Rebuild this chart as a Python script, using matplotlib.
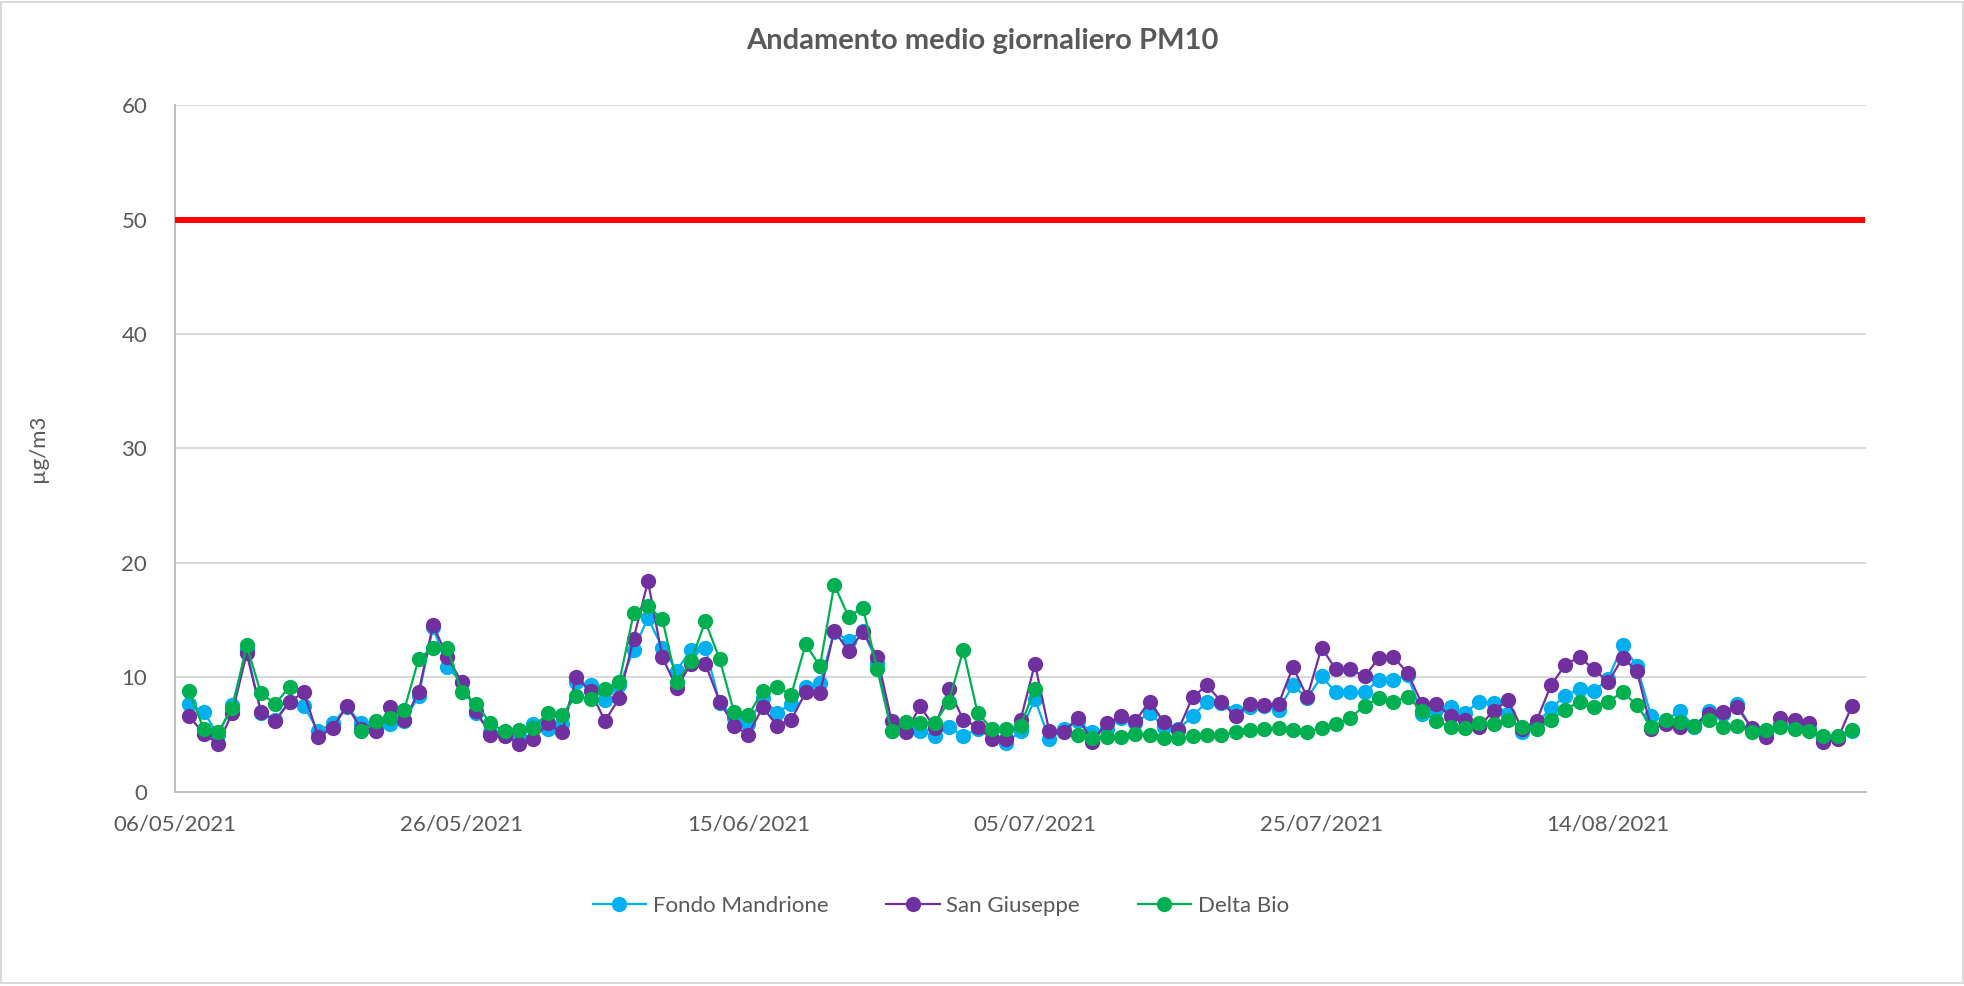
import numpy as np
import pandas as pd
import matplotlib
matplotlib.use("Agg")
import matplotlib.pyplot as plt
import matplotlib.dates as mdates
from matplotlib.patches import Rectangle

nan = np.nan

# Daily mean PM10 (µg/m3), one value per day starting 07/05/2021
start_date = "2021-05-07"
axis_start = "2021-05-06"
axis_end = "2021-09-01"

fondo_mandrione = [
    7.7, 7.0, 5.0, 7.6, 12.4, 6.9, 6.3, 7.9, 7.5, 5.3,
    6.0, 7.4, 6.0, 5.5, 5.9, 6.2, 8.4, 14.4, 10.9, 9.6,
    6.9, 5.2, 5.2, 4.9, 5.9, 5.5, 5.9, 9.6, 9.3, 8.0,
    9.3, 12.4, 15.2, 12.6, 10.6, 12.4, 12.6, 7.8, 6.5, 5.9,
    8.2, 6.9, 7.7, 9.2, 9.5, 14.0, 13.2, 14.1, 11.3, 5.3,
    5.9, 5.3, 4.9, 5.7, 4.9, 5.5, 5.4, 4.3, 5.3, 8.1,
    4.6, 5.5, 6.2, 5.2, 5.5, 6.5, 6.0, 6.9, 5.7, 5.5,
    6.6, 7.9, 7.8, 7.1, 7.4, 7.5, 7.2, 9.3, 8.2, 10.1,
    8.7, 8.7, 8.7, 9.8, 9.8, 10.2, 6.8, 7.2, 7.4, 6.9,
    7.9, 7.8, 6.8, 5.2, 6.0, 7.3, 8.4, 9.0, 8.8, 9.9,
    12.8, 11.0, 6.6, 6.2, 7.1, 5.7, 7.1, 6.8, 7.7, 5.5,
    5.2, 5.9, 5.7, 5.5, 4.7, 4.7, 5.3,
]

san_giuseppe = [
    6.6, 5.1, 4.2, 6.9, 12.1, 7.0, 6.2, 7.9, 8.7, 4.8,
    5.6, 7.5, 5.5, 5.3, 7.4, 6.3, 8.7, 14.6, 11.8, 9.6,
    7.1, 5.0, 4.9, 4.2, 4.6, 6.0, 5.2, 10.0, 8.8, 6.2,
    8.2, 13.4, 18.4, 11.8, 9.1, 11.2, 11.2, 7.9, 5.8, 5.0,
    7.4, 5.8, 6.3, 8.7, 8.6, 14.1, 12.3, 14.0, 11.8, 6.2,
    5.2, 7.5, 5.6, 9.0, 6.3, 5.7, 4.6, 4.6, 6.3, 11.2,
    5.3, 5.2, 6.5, 4.4, 6.0, 6.6, 6.2, 7.9, 6.1, 5.4,
    8.3, 9.3, 7.9, 6.6, 7.7, 7.6, 7.7, 10.9, 8.3, 12.6,
    10.7, 10.7, 10.1, 11.7, 11.8, 10.4, 7.7, 7.7, 6.6, 6.3,
    5.7, 7.1, 8.0, 5.5, 6.2, 9.3, 11.1, 11.8, 10.7, 9.6,
    11.7, 10.6, 5.5, 5.9, 5.7, 5.8, 6.8, 7.0, 7.4, 5.6,
    4.8, 6.5, 6.3, 6.0, 4.4, 4.6, 7.5,
]

delta_bio = [
    8.8, 5.5, 5.2, 7.3, 12.8, 8.6, 7.7, 9.2, nan, nan,
    nan, nan, 5.3, 6.2, 6.5, 7.2, 11.6, 12.6, 12.6, 8.7,
    7.7, 6.0, 5.3, 5.4, 5.6, 6.9, 6.7, 8.4, 8.1, 9.0,
    9.6, 15.6, 16.2, 15.1, 9.6, 11.4, 14.9, 11.6, 7.0, 6.7,
    8.8, 9.2, 8.5, 12.9, 11.0, 18.1, 15.3, 16.1, 10.7, 5.3,
    6.1, 6.0, 6.0, 7.9, 12.4, 6.9, 5.5, 5.5, 5.8, 9.0,
    nan, nan, 5.0, 4.7, 4.8, 4.8, 5.1, 5.0, 4.7, 4.7,
    4.9, 5.0, 5.0, 5.2, 5.4, 5.5, 5.6, 5.4, 5.2, 5.6,
    5.9, 6.5, 7.5, 8.2, 7.9, 8.3, 7.1, 6.2, 5.7, 5.6,
    6.0, 5.9, 6.3, 5.7, 5.5, 6.3, 7.2, 7.9, 7.4, 7.9,
    8.7, 7.6, 5.7, 6.3, 6.1, 5.8, 6.3, 5.7, 5.8, 5.2,
    5.4, 5.7, 5.5, 5.3, 4.9, 4.9, 5.4,
]

limit_value = 50

series_names = ["Fondo Mandrione", "San Giuseppe", "Delta Bio"]
series_colors = ["#00B0F0", "#7030A0", "#00B050"]

dates = pd.date_range(start_date, periods=len(fondo_mandrione), freq="D")
x_min = pd.Timestamp(axis_start)
x_max = pd.Timestamp(axis_end)

text_color = "#595959"
grid_color = "#D9D9D9"
font = ["Lato", "DejaVu Sans"]

plt.rcParams["font.family"] = font

fig = plt.figure(figsize=(19.64, 9.86), dpi=100)
ax = fig.add_axes([0.0891, 0.1968, 0.8611, 0.6967])

# Daily limit line
ax.plot([x_min, x_max - pd.Timedelta(hours=2)], [limit_value, limit_value],
        color="#FF0000", linewidth=4.3, solid_capstyle="butt", zorder=3)

for values, name, color in zip([fondo_mandrione, san_giuseppe, delta_bio],
                               series_names, series_colors):
    ax.plot(dates, values, color=color, linewidth=1.6, marker="o",
            markersize=11, markeredgewidth=0, label=name, zorder=4)

ax.set_xlim(x_min, x_max)
ax.set_ylim(0, 60)
ax.set_yticks(np.arange(0, 61, 10))
ax.set_xticks(pd.date_range(axis_start, axis_end, freq="20D"))
ax.xaxis.set_major_formatter(mdates.DateFormatter("%d/%m/%Y"))

ax.grid(axis="y", color=grid_color, linewidth=1.4, zorder=0)
ax.set_axisbelow(True)
for side in ["top", "right"]:
    ax.spines[side].set_visible(False)
for side in ["left", "bottom"]:
    ax.spines[side].set_color("#BFBFBF")
    ax.spines[side].set_linewidth(1.4)

ax.tick_params(axis="both", length=0, labelsize=16, colors=text_color)
ax.tick_params(axis="y", pad=20)
ax.tick_params(axis="x", pad=16)

ax.set_ylabel("µg/m3", fontsize=16, color=text_color)
ax.yaxis.set_label_coords(-0.075, 0.5)

fig.text(0.5, 0.958, "Andamento medio giornaliero PM10", ha="center",
         va="center", fontsize=21, fontweight="bold", color=text_color)

leg = fig.legend(loc="center", bbox_to_anchor=(0.479, 0.081), ncol=3,
                 frameon=False, fontsize=16, handlelength=2.4,
                 columnspacing=2.6, handletextpad=0.3)
for txt in leg.get_texts():
    txt.set_color(text_color)

# Light chart border
fig.patches.append(Rectangle((0.0005, 0.003), 0.999, 0.995,
                             transform=fig.transFigure, fill=False,
                             edgecolor="#D9D9D9", linewidth=1.4))

fig.savefig("out.png", dpi=100, facecolor="white")
